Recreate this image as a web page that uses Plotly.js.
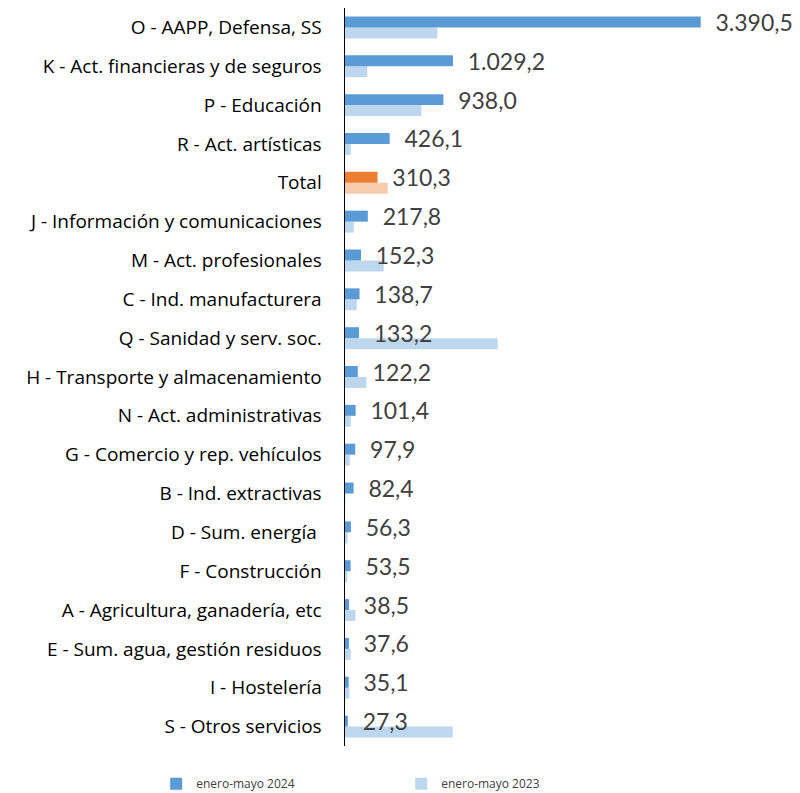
<!DOCTYPE html>
<html>
<head>
<meta charset="utf-8">
<script src="https://cdn.plot.ly/plotly-3.0.1.min.js"></script>
<style>
html,body{margin:0;padding:0;background:#fff;}
#chart{width:800px;height:793px;}
</style>
</head>
<body>
<div id="chart"></div>
<script>
var categories = ["O - AAPP, Defensa, SS", "K - Act. financieras y de seguros", "P - Educación", "R - Act. artísticas", "Total", "J - Información y comunicaciones", "M - Act. profesionales", "C - Ind. manufacturera", "Q - Sanidad y serv. soc.", "H - Transporte y almacenamiento", "N - Act. administrativas", "G - Comercio y rep. vehículos", "B - Ind. extractivas", "D - Sum. energía\u00a0", "F - Construcción", "A - Agricultura, ganadería, etc", "E - Sum. agua, gestión residuos", "I - Hostelería", "S - Otros servicios"];
var v2024 = [3390.5, 1029.2, 938.0, 426.1, 310.3, 217.8, 152.3, 138.7, 133.2, 122.2, 101.4, 97.9, 82.4, 56.3, 53.5, 38.5, 37.6, 35.1, 27.3];
var v2023 = [881, 213, 728, 54, 407, 83, 369, 112, 1456, 204, 54, 45, 3, 25, 22, 99, 54, 42, 1027];
var seriesNames = ["enero-mayo 2024", "enero-mayo 2023"];

var c24 = categories.map(function(c){ return c === "Total" ? "#ED7D31" : "#5B9BD5"; });
var c23 = categories.map(function(c){ return c === "Total" ? "#F8CBAD" : "#BDD7EE"; });

// 2023 drawn first (lower bar of each pair), 2024 drawn last so its labels sit on top
var traces = [
  {
    type: "bar", orientation: "h", name: seriesNames[1],
    y: categories, x: v2023,
    marker: {color: c23},
    legendrank: 2,
    hoverinfo: "none"
  },
  {
    type: "bar", orientation: "h", name: seriesNames[0],
    y: categories, x: v2024,
    marker: {color: c24},
    legendrank: 1,
    texttemplate: "\u00a0\u00a0%{x:,.1f}",
    textposition: "outside",
    constraintext: "none",
    cliponaxis: false,
    textfont: {family: "Lato, sans-serif", size: 23, color: "#404040"},
    hoverinfo: "none"
  }
];

var layout = {
  width: 800, height: 793,
  margin: {l: 345, r: 0, t: 8, b: 47, autoexpand: false},
  separators: ",.",
  barmode: "group",
  bargap: 0.435,
  bargroupgap: 0,
  paper_bgcolor: "#ffffff",
  plot_bgcolor: "#ffffff",
  showlegend: true,
  legend: {
    orientation: "h",
    x: -0.415, xanchor: "left",
    y: -0.051, yanchor: "middle",
    entrywidth: 200, entrywidthmode: "pixels",
    font: {family: "Open Sans, sans-serif", size: 12, color: "#404040"}
  },
  xaxis: {
    range: [0, 4337],
    showgrid: false, zeroline: false, showticklabels: false, showline: false, ticks: ""
  },
  yaxis: {
    type: "category",
    categoryorder: "array",
    categoryarray: categories.slice().reverse(),
    showgrid: false, zeroline: false,
    showline: true, linecolor: "#000000", linewidth: 1.5,
    ticks: "outside", ticklen: 18, tickcolor: "rgba(0,0,0,0)",
    tickfont: {family: "Open Sans, sans-serif", size: 19, color: "#000000"}
  }
};

Plotly.newPlot("chart", traces, layout, {displayModeBar: false, staticPlot: true});
</script>
</body>
</html>
